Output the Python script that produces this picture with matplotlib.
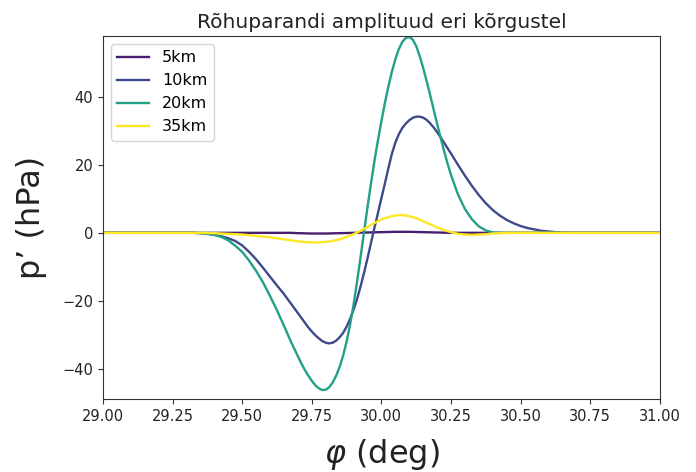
import matplotlib
matplotlib.use("Agg")
import matplotlib.pyplot as plt

# latitude (deg): coarse left, fine middle, coarse right
phi = [29.0, 29.1, 29.2,
       29.300, 29.325, 29.350, 29.375, 29.400, 29.425, 29.450, 29.475,
       29.500, 29.525, 29.550, 29.575, 29.600, 29.625, 29.650, 29.675,
       29.7000, 29.7125, 29.7250, 29.7375, 29.7500, 29.7625, 29.7750, 29.7875,
       29.8000, 29.8125, 29.8250, 29.8375, 29.8500, 29.8625, 29.8750, 29.8875,
       29.9000, 29.9125, 29.9250, 29.9375, 29.9500, 29.9625, 29.9750, 29.9875,
       30.0000, 30.0125, 30.0250, 30.0375, 30.0500, 30.0625, 30.0750, 30.0875,
       30.1000, 30.1125, 30.1250, 30.1375, 30.1500, 30.1625, 30.1750, 30.1875,
       30.2000, 30.2125, 30.2250, 30.2375, 30.2500,
       30.275, 30.300, 30.325, 30.350, 30.375, 30.400, 30.425, 30.450, 30.475,
       30.500, 30.525, 30.550, 30.575, 30.600, 30.625, 30.650, 30.675, 30.700,
       30.8, 30.9, 31.0]

p_5km = [0, 0, 0,
         0, 0, 0, 0, 0, 0, 0, 0,
         0, 0, 0, 0, 0, 0, 0, 0,
         -0.1, -0.12, -0.15, -0.18, -0.2, -0.2, -0.2, -0.2,
         -0.2, -0.18, -0.15, -0.12, -0.1, -0.08, -0.05, -0.02,
         0, 0.02, 0.05, 0.08, 0.1, 0.12, 0.15, 0.18,
         0.2, 0.22, 0.25, 0.28, 0.3, 0.3, 0.3, 0.3,
         0.3, 0.28, 0.25, 0.22, 0.2, 0.18, 0.15, 0.12,
         0.1, 0.08, 0.05, 0.02, 0,
         0, 0, 0, 0, 0, 0, 0, 0, 0,
         0, 0, 0, 0, 0, 0, 0, 0, 0,
         0, 0, 0]

p_10km = [0, 0, 0,
          0, 0, -0.1, -0.3, -0.6, -1.0, -1.6, -2.4,
          -3.7, -5.6, -7.8, -10.3, -12.9, -15.5, -18.0, -20.8,
          -23.6, -25.0, -26.4, -27.8, -29.0, -30.1, -31.0, -31.8,
          -32.3, -32.5, -32.3, -31.7, -30.7, -29.4, -27.6, -25.3,
          -22.6, -19.5, -15.8, -11.8, -7.5, -3.0, 1.5, 5.8,
          10.2, 14.5, 19.0, 23.2, 26.5, 29.0, 30.8, 32.1,
          33.1, 33.8, 34.15, 34.15, 33.85, 33.2, 32.2, 31.0,
          29.6, 28.1, 26.5, 24.9, 23.3,
          20.0, 16.8, 13.8, 11.1, 8.7, 6.7, 5.1, 3.8, 2.8,
          2.0, 1.4, 1.0, 0.6, 0.4, 0.2, 0.1, 0.0, 0.0,
          0, 0, 0]

p_20km = [0, 0, 0,
          0, 0, -0.1, -0.3, -0.6, -1.2, -2.2, -3.8,
          -5.6, -8.2, -11.2, -14.6, -18.6, -22.8, -27.3, -32.0,
          -36.3, -38.4, -40.3, -42.0, -43.5, -44.8, -45.7, -46.2,
          -46.1, -45.4, -44.0, -42.0, -39.4, -36.1, -32.0, -27.0,
          -21.1, -14.4, -7.2, 0.2, 7.5, 14.5, 21.1, 27.2,
          32.8, 38.2, 43.0, 47.3, 51.0, 54.0, 56.1, 57.3,
          57.6, 56.8, 54.9, 52.0, 48.5, 44.6, 40.5, 36.3,
          32.1, 28.0, 24.1, 20.4, 17.0,
          11.3, 7.0, 4.0, 1.9, 0.7, 0.1, 0, 0, 0,
          0, 0, 0, 0, 0, 0, 0, 0, 0,
          0, 0, 0]

p_35km = [0, 0, 0,
          0, 0, 0, -0.05, -0.1, -0.2, -0.3, -0.4,
          -0.5, -0.7, -0.9, -1.1, -1.3, -1.6, -1.9, -2.2,
          -2.5, -2.6, -2.7, -2.75, -2.8, -2.82, -2.8, -2.75,
          -2.7, -2.55, -2.4, -2.15, -1.9, -1.55, -1.2, -0.8,
          -0.4, 0.1, 0.6, 1.15, 1.7, 2.3, 2.9, 3.4,
          3.9, 4.3, 4.6, 4.9, 5.1, 5.2, 5.2, 5.1,
          4.9, 4.6, 4.3, 3.9, 3.4, 2.95, 2.5, 2.05,
          1.6, 1.2, 0.8, 0.5, 0.2,
          -0.3, -0.5, -0.6, -0.5, -0.4, -0.2, -0.1, 0, 0,
          0, 0, 0, 0, 0, 0, 0, 0, 0,
          0, 0, 0]

labels = ["5km", "10km", "20km", "35km"]
series = [p_5km, p_10km, p_20km, p_35km]
colors = ["#481f70", "#3e4a89", "#21a085", "#fde725"]

fig = plt.figure(figsize=(6.96, 4.72), dpi=100)
ax = fig.add_axes([0.148, 0.155, 0.800, 0.769])

for lab, vals, c in zip(labels, series, colors):
    ax.plot(phi, vals, color=c, lw=1.7, label=lab)

ax.set_xlim(29.0, 31.0)
ax.set_ylim(-48.8, 57.9)
ax.set_xticks([29.0, 29.25, 29.5, 29.75, 30.0, 30.25, 30.5, 30.75, 31.0])
ax.set_xticklabels(["29.00", "29.25", "29.50", "29.75", "30.00", "30.25", "30.50", "30.75", "31.00"])
ax.set_yticks([-40, -20, 0, 20, 40])
ax.tick_params(labelsize=10.5, color="#333333", labelcolor="#222222")
for s in ax.spines.values():
    s.set_color("#333333")

ax.set_title("Rõhuparandi amplituud eri kõrgustel", fontsize=14.5, color="#222222")
ax.set_xlabel(r"$\varphi$ (deg)", fontsize=23, color="#222222", labelpad=10)
ax.set_ylabel("p’ (hPa)", fontsize=23, color="#222222", labelpad=11)
ax.legend(loc="upper left", fontsize=11.5)

fig.savefig("out.png", dpi=100)
